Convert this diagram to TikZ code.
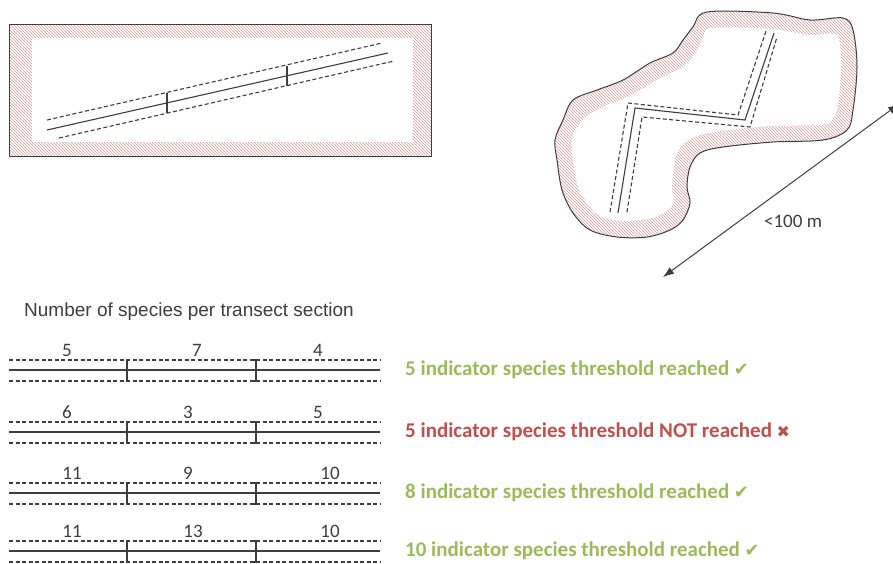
\documentclass[tikz,border=0pt]{standalone}
\usepackage{fontspec}
\setmainfont{Carlito}
\setsansfont{Liberation Sans}
\newfontfamily\symfont{DejaVu Sans}
\usepackage{tikz}
\usetikzlibrary{arrows.meta, patterns}
\definecolor{hatchred}{HTML}{D49A9A}
\definecolor{okgreen}{HTML}{9BBB59}
\definecolor{failred}{HTML}{C0504D}
\definecolor{edgegray}{HTML}{3E3E3E}

\begin{document}
\begin{tikzpicture}[
    x=1pt, y=-1pt,
    every node/.style={inner sep=0pt},
    hatchband/.style={pattern=north west lines, pattern color=hatchred, draw=edgegray, line width=1pt},
    innerfill/.style={fill=white},
    transect/.style={draw=edgegray, line width=1.1pt},
    buffer/.style={draw=edgegray, line width=1.1pt, dash pattern=on 4pt off 2.5pt},
    tallynum/.style={font=\fontsize{19}{19}\selectfont, text=edgegray, anchor=base},
    verdict/.style={font=\fontsize{21}{21}\selectfont\bfseries, anchor=west}
]
    \useasboundingbox (0,0) rectangle (893,563);

    % Straight transect in a rectangular field
    \draw[hatchband] (9,24) rectangle (431,156);
    \fill[innerfill] (32,38) rectangle (413,142);
    \draw[transect] (47,130) -- (388,53);
    \draw[buffer] (47,120) -- (382,43);
    \draw[buffer] (59,138) -- (394,61);
    \draw[transect] (167,93) -- (167,113);
    \draw[transect] (287,66) -- (287,86);

    % Zigzag transect in an irregular field
    \draw[hatchband] plot[smooth cycle, tension=0.55] coordinates {
        (707,12) (773,13) (810,20) (843,18) (853,30) (857,67) (853,110)
        (847,130) (823,140) (773,142) (723,147) (700,153) (690,167)
        (687,187) (690,203) (683,220) (670,230) (647,237) (617,237)
        (590,230) (573,213) (562,190) (557,160) (555,140) (563,120)
        (573,100) (597,90) (623,80) (650,63) (673,53) (683,40) (693,27)};
    \fill[innerfill] plot[smooth cycle, tension=0.55] coordinates {
        (712,28) (773,29) (808,35) (835,34) (840,45) (841,67) (838,105)
        (832,120) (820,125) (773,126) (720,131) (692,138) (677,153)
        (672,187) (674,200) (668,210) (652,218) (620,221) (598,215)
        (587,203) (578,187) (573,160) (572,140) (578,126) (590,114)
        (610,104) (632,95) (660,78) (683,67) (696,52) (703,38)};
    \draw[transect] (618,213) -- (635,108) -- (745,120) -- (774,33);
    \draw[buffer] (610,212) -- (628,103) -- (738,115) -- (766,31);
    \draw[buffer] (627,212) -- (642,117) -- (750,127) -- (777,37);

    % Field length
    \coordinate (farend) at (899,104);
    \coordinate (nearend) at (663,277);
    \draw[{Latex[length=11pt,width=8pt]}-{Latex[length=11pt,width=8pt]}, edgegray, line width=1pt] (farend) -- (nearend);
    \node[font=\fontsize{19}{19}\selectfont, text=edgegray] (span) at (793,221) {<100 m};

    % Counts per section
    \node[font=\sffamily\fontsize{19}{19}\selectfont, text=edgegray, anchor=west] (title) at (24,312) {Number of species per transect section};

    \foreach \ry/\na/\xa/\nb/\xb/\nc/\xc [count=\r] in {
        370/5/67/7/197/4/318,
        432/6/67/3/188/5/318,
        493/11/72/9/188/10/330,
        551/11/72/13/193/10/330}{
        \draw[transect] (9,\ry) -- (380,\ry);
        \draw[buffer] (9,\ry-10) -- (380,\ry-10);
        \draw[buffer] (9,\ry+11) -- (380,\ry+11);
        \draw[transect] (130,\ry-10) -- (127,\ry-10) -- (127,\ry+11) -- (130,\ry+11);
        \draw[transect] (253,\ry-10) -- (256,\ry-10) -- (256,\ry+11) -- (253,\ry+11);
        \node[tallynum] (sec\r-a) at (\xa,\ry-13.5) {\na};
        \node[tallynum] (sec\r-b) at (\xb,\ry-13.5) {\nb};
        \node[tallynum] (sec\r-c) at (\xc,\ry-13.5) {\nc};
    }

    % Thresholds
    \node[verdict, text=okgreen] (res1) at (405,370) {5 indicator species threshold reached {\symfont\fontsize{18}{18}\selectfont ✔}};
    \node[verdict, text=failred] (res2) at (405,432) {5 indicator species threshold NOT reached {\symfont\fontsize{16}{16}\selectfont ✖}};
    \node[verdict, text=okgreen] (res3) at (405,493) {8 indicator species threshold reached {\symfont\fontsize{18}{18}\selectfont ✔}};
    \node[verdict, text=okgreen] (res4) at (405,551) {10 indicator species threshold reached {\symfont\fontsize{18}{18}\selectfont ✔}};
\end{tikzpicture}
\end{document}
